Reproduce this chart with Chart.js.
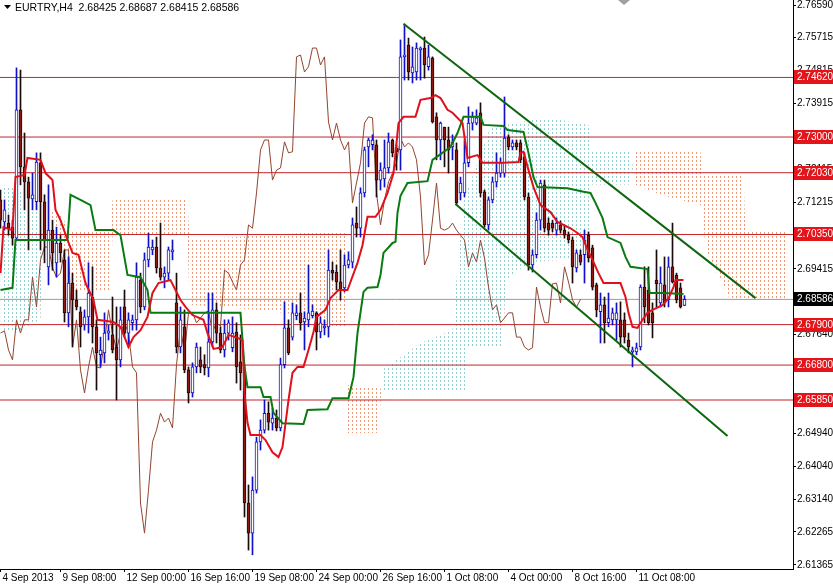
<!DOCTYPE html>
<html><head><meta charset="utf-8">
<script src="https://cdn.jsdelivr.net/npm/chart.js@4.4.1/dist/chart.umd.min.js"></script>
<style>html,body{margin:0;padding:0;background:#fff;}canvas{display:block;}</style>
</head><body>
<canvas id="c" width="833" height="584" style="width:833px;height:584px"></canvas>
<script>
// ---------- DATA ----------
const titleText = 'EURTRY,H4  2.68425 2.68687 2.68415 2.68586';
const xTickPos = [0, 15, 31, 47, 63, 79, 95, 111, 127, 143, 159];
const xTickLabels = ['4 Sep 2013','9 Sep 08:00','12 Sep 00:00','16 Sep 16:00','19 Sep 08:00','24 Sep 00:00','26 Sep 16:00','1 Oct 08:00','4 Oct 00:00','8 Oct 16:00','11 Oct 08:00'];
const yTicks = [2.76590,2.75715,2.74815,2.73915,2.73015,2.72115,2.71215,2.70315,2.69415,2.68515,2.67640,2.66740,2.65840,2.64940,2.64040,2.63140,2.62265,2.61365];

const openP = [
2.7129,2.7069,2.7066,2.7055,2.7025,2.7374,2.7219,2.7178,2.7132,2.7124,
2.7230,2.7124,2.6947,2.7047,2.6958,2.7012,2.6966,2.6822,2.6903,2.6857,
2.6825,2.6789,2.6811,2.6865,2.6784,2.6708,2.6713,2.6767,2.6762,2.6729,
2.6694,2.6838,2.6767,2.6795,2.6803,2.6911,2.6838,2.6966,2.6993,2.7001,
2.6944,2.6919,2.6930,2.6988,2.6849,2.6729,2.6784,2.6667,2.6604,2.6675,
2.6694,2.6681,2.6672,2.6743,2.6830,2.6767,2.6721,2.6767,2.6727,2.6770,
2.6689,2.6659,2.6305,2.6223,2.6340,2.6471,2.6503,2.6549,2.6522,2.6536,
2.6509,2.6681,2.6781,2.6756,2.6814,2.6822,2.6797,2.6803,2.6814,2.6822,
2.6770,2.6781,2.6784,2.6938,2.6933,2.6906,2.6890,2.6952,2.6960,2.7066,
2.7052,2.7148,2.7273,2.7279,2.7279,2.7183,2.7186,2.7216,2.7292,2.7270,
2.7265,2.7518,2.7550,2.7474,2.7477,2.7537,2.7542,2.7491,2.7515,2.7355,
2.7292,2.7327,2.7292,2.7273,2.7265,2.7148,2.7148,2.7230,2.7338,2.7338,
2.7366,2.7151,2.7061,2.7129,2.7178,2.7202,2.7202,2.7300,2.7273,2.7284,
2.7284,2.7246,2.7137,2.6952,2.6980,2.7074,2.7170,2.7066,2.7066,2.7047,
2.7061,2.7047,2.7033,2.7020,2.6944,2.6980,2.6980,2.7033,2.6999,2.6898,
2.6825,2.6844,2.6795,2.6803,2.6803,2.6803,2.6803,2.6748,2.6716,2.6716,
2.6729,2.6892,2.6884,2.6822,2.6911,2.6849,2.6898,2.6857,2.6947,2.6925,
2.6890,2.68425];
const highP = [
2.7156,2.7129,2.7088,2.7074,2.7488,2.7482,2.7311,2.7191,2.7202,2.7257,
2.7257,2.7143,2.7170,2.7074,2.7055,2.7033,2.6993,2.6974,2.6930,2.6884,
2.6838,2.6830,2.6958,2.6947,2.6803,2.6756,2.6822,2.6789,2.6865,2.6838,
2.6838,2.6884,2.6822,2.6816,2.6958,2.6930,2.6985,2.7039,2.7020,2.7028,
2.7066,2.6947,2.7001,2.7020,2.6930,2.6838,2.6830,2.6675,2.6686,2.6740,
2.6729,2.6708,2.6876,2.6876,2.6849,2.6784,2.6803,2.6803,2.6811,2.6795,
2.6762,2.6680,2.6354,2.6376,2.6484,2.6531,2.6585,2.6580,2.6563,2.6558,
2.6699,2.6852,2.6803,2.6849,2.6844,2.6876,2.6825,2.6952,2.6844,2.6825,
2.6811,2.6803,2.6993,2.6960,2.6952,2.6993,2.6980,2.6988,2.7080,2.7110,
2.7162,2.7273,2.7297,2.7306,2.7292,2.7230,2.7292,2.7311,2.7295,2.7279,
2.7564,2.7607,2.7569,2.7545,2.7556,2.7545,2.7572,2.7550,2.7518,2.7366,
2.7341,2.7327,2.7327,2.7306,2.7284,2.7191,2.7292,2.7382,2.7368,2.7374,
2.7393,2.7156,2.7137,2.7191,2.7257,2.7243,2.7409,2.7306,2.7292,2.7292,
2.7292,2.7257,2.7148,2.6993,2.7094,2.7183,2.7183,2.7080,2.7074,2.7080,
2.7072,2.7061,2.7042,2.7028,2.6993,2.6993,2.7047,2.7042,2.7006,2.6903,
2.6876,2.6865,2.6876,2.6835,2.6849,2.6852,2.6822,2.6767,2.6729,2.6740,
2.6898,2.6947,2.6947,2.6849,2.6993,2.6947,2.6974,2.6974,2.7066,2.6930,
2.6903,2.68687];
const lowP = [
2.7052,2.7047,2.7033,2.7006,2.7020,2.7170,2.7102,2.6993,2.7102,2.7102,
2.6993,2.6958,2.6898,2.6938,2.6919,2.6960,2.6797,2.6784,2.6729,2.6830,
2.6729,2.6775,2.6767,2.6740,2.6612,2.6675,2.6686,2.6748,2.6713,2.6585,
2.6675,2.6756,2.6729,2.6775,2.6775,2.6822,2.6830,2.6947,2.6980,2.6930,
2.6911,2.6890,2.6911,2.6966,2.6713,2.6713,2.6659,2.6577,2.6593,2.6659,
2.6659,2.6653,2.6648,2.6729,2.6740,2.6713,2.6702,2.6748,2.6716,2.6631,
2.6612,2.6267,2.6177,2.6164,2.6332,2.6449,2.6495,2.6503,2.6503,2.6501,
2.6501,2.6672,2.6708,2.6748,2.6803,2.6775,2.6721,2.6784,2.6808,2.6721,
2.6754,2.6762,2.6756,2.6911,2.6884,2.6857,2.6879,2.6944,2.6944,2.7028,
2.7028,2.7137,2.7219,2.7265,2.7137,2.7156,2.7164,2.7202,2.7246,2.7210,
2.7210,2.7455,2.7455,2.7447,2.7455,2.7455,2.7460,2.7482,2.7338,2.7238,
2.7238,2.7219,2.7202,2.7238,2.7115,2.7129,2.7137,2.7219,2.7319,2.7333,
2.7137,2.7055,2.7047,2.7121,2.7164,2.7191,2.7191,2.7265,2.7265,2.7265,
2.7230,2.7129,2.6938,2.6933,2.6971,2.7047,2.7042,2.7033,2.7042,2.7033,
2.7039,2.7025,2.7012,2.6903,2.6933,2.6952,2.6903,2.6960,2.6884,2.6811,
2.6740,2.6740,2.6784,2.6789,2.6748,2.6729,2.6740,2.6713,2.6675,2.6708,
2.6721,2.6795,2.6789,2.6754,2.6838,2.6838,2.6838,2.6838,2.6903,2.6849,
2.6835,2.68415];
const closeP = [
2.7074,2.7102,2.7052,2.7025,2.7374,2.7219,2.7178,2.7134,2.7143,2.7232,
2.7124,2.7020,2.7047,2.6985,2.7012,2.6985,2.6822,2.6903,2.6857,2.6838,
2.6784,2.6811,2.6876,2.6784,2.6713,2.6721,2.6767,2.6773,2.6721,2.6694,
2.6803,2.6767,2.6803,2.6803,2.6919,2.6838,2.6966,2.7001,2.7001,2.6944,
2.6919,2.6930,2.6993,2.6993,2.6729,2.6803,2.6667,2.6604,2.6675,2.6729,
2.6675,2.6672,2.6743,2.6830,2.6767,2.6721,2.6767,2.6795,2.6767,2.6675,
2.6659,2.6305,2.6223,2.6340,2.6471,2.6503,2.6549,2.6525,2.6536,2.6509,
2.6681,2.6781,2.6713,2.6822,2.6822,2.6795,2.6808,2.6822,2.6827,2.6770,
2.6795,2.6786,2.6938,2.6930,2.6906,2.6884,2.6952,2.6966,2.7061,2.7052,
2.7148,2.7265,2.7292,2.7292,2.7183,2.7210,2.7216,2.7287,2.7257,2.7260,
2.7518,2.7523,2.7477,2.7491,2.7542,2.7542,2.7496,2.7518,2.7341,2.7292,
2.7338,2.7292,2.7265,2.7287,2.7121,2.7175,2.7230,2.7338,2.7355,2.7352,
2.7148,2.7061,2.7129,2.7178,2.7202,2.7230,2.7297,2.7273,2.7284,2.7273,
2.7238,2.7137,2.6952,2.6980,2.7074,2.7175,2.7052,2.7047,2.7052,2.7066,
2.7047,2.7033,2.7020,2.6947,2.6985,2.6960,2.7020,2.6971,2.6892,2.6830,
2.6844,2.6795,2.6808,2.6822,2.6822,2.6756,2.6756,2.6729,2.6721,2.6727,
2.6892,2.6838,2.6795,2.6795,2.6901,2.6903,2.6849,2.6947,2.6906,2.6857,
2.6838,2.68586];

// Tenkan-sen (bar index, price)
const tenkanX = [0,0.75,3,3.75,6,6.75,10,11.25,13,13.75,15,16.75,18,19.5,21.25,23.25,24.25,28.25,30,32,33.25,35,36.75,38,39.5,42.5,45,46.25,48,50.75,51.75,53.25,55.5,57,59.25,60.5,61,61.75,62.5,65,66.25,68,69.5,70.5,72,73,74.25,75.75,77,78.25,79,81.25,82.5,84.5,86.75,89.25,90.5,91.75,93.75,95,96.75,98.25,99.5,100.75,103.75,105,107.5,108.75,110,111.75,113,115.5,116.75,119.25,120.5,125.75,129.5,130,130.75,132,133.25,135,137.5,139.25,142.5,144.25,145.5,146.75,148,149.5,150.75,155,156.25,157,158,159.25,160.5,161.75,163,165.5,167,168.25,168.75,170.75];
const tenkanY = [2.6930,2.7055,2.7047,2.7191,2.7197,2.7243,2.7238,2.7202,2.7183,2.7102,2.7074,2.7020,2.6985,2.6980,2.6903,2.6857,2.6803,2.6797,2.6784,2.6729,2.6756,2.6775,2.6811,2.6876,2.6903,2.6911,2.6857,2.6838,2.6816,2.6803,2.6767,2.6724,2.6729,2.6762,2.6754,2.6748,2.6604,2.6523,2.6490,2.6490,2.6476,2.6443,2.6430,2.6457,2.6585,2.6659,2.6675,2.6675,2.6721,2.6770,2.6811,2.6830,2.6862,2.6884,2.6884,2.6958,2.7006,2.7083,2.7083,2.7102,2.7148,2.7202,2.7338,2.7355,2.7355,2.7401,2.7406,2.7414,2.7406,2.7374,2.7366,2.7338,2.7243,2.7251,2.7230,2.7230,2.7232,2.7257,2.7260,2.7210,2.7164,2.7115,2.7096,2.7069,2.7052,2.7039,2.7028,2.6993,2.6966,2.6930,2.6903,2.6903,2.6865,2.6822,2.6784,2.6781,2.6803,2.6822,2.6830,2.6843,2.6862,2.6892,2.6911,2.6911];
// Kijun-sen
const kijunX = [0,3,3.75,16.75,17.5,20,22.5,23.75,28.25,30,31.75,35,36.75,37.5,60,61,61.75,65,65.75,67.5,68.25,70.5,75.75,76.75,81.75,83,87,88.25,89.25,90.75,91.75,94.25,95,95.75,98,98.75,99.25,100,101.75,106.75,108,112.5,114.25,115.75,120,120.75,125.75,126.75,130.75,132,133.25,134.25,141.75,145.75,147.5,148.75,150.5,151.75,155,156.25,157.5,161.75,162.25,165.75,170.75];
const kijunY = [2.6884,2.6890,2.7020,2.7020,2.7143,2.7129,2.7115,2.7047,2.7047,2.7033,2.6925,2.6919,2.6884,2.6822,2.6822,2.6675,2.6620,2.6620,2.6593,2.6593,2.6550,2.6522,2.6520,2.6558,2.6560,2.6590,2.6590,2.6647,2.6767,2.6879,2.6890,2.6892,2.6925,2.6985,2.7012,2.7015,2.7094,2.7140,2.7175,2.7180,2.7238,2.7273,2.7311,2.7355,2.7355,2.7333,2.7330,2.7319,2.7314,2.7257,2.7191,2.7164,2.7161,2.7151,2.7148,2.7121,2.7080,2.7028,2.7012,2.6974,2.6947,2.6941,2.6876,2.6876,2.6873];
// Kumo (Senkou span A / B), shifted forward
const cloudX = [0,5,10,10.5,15,17.5,27.5,28,46.75,47.25,65,75,82.5,86.25,86.75,94.5,95.5,105,113,114,115.75,116.25,116.75,122.5,125.75,126.25,132.5,140,147,147.5,157.5,158.75,165,175,175.5,176.25,182.5,185.75,186.25,196.75];
const spanA = [2.7170,2.7156,2.7129,2.7088,2.7020,2.6884,2.6884,2.7033,2.7033,2.6844,2.6830,2.6816,2.6784,2.6784,2.6495,2.6495,2.6667,2.6740,2.6775,2.6911,2.7129,2.7143,2.7156,2.7327,2.7333,2.7333,2.7346,2.7346,2.7333,2.7265,2.7260,2.7170,2.7143,2.7115,2.7110,2.6993,2.6857,2.6857,2.6857,2.6857];
const spanB = [2.6775,2.6775,2.6803,2.7115,2.7088,2.7047,2.7047,2.7129,2.7129,2.7020,2.7033,2.7039,2.7039,2.7039,2.6626,2.6618,2.6612,2.6612,2.6612,2.6612,2.6612,2.6612,2.6729,2.6729,2.6729,2.6911,2.6960,2.6966,2.6966,2.7170,2.7170,2.7260,2.7260,2.7260,2.7197,2.7197,2.7197,2.7197,2.7042,2.7042];
// Horizontal levels
const redLevels = [2.74620, 2.73000, 2.72030, 2.70350, 2.67900, 2.66800, 2.65850];
const lastPrice = 2.68586;
// Trend channel lines (bar index, price)
const trendUpperX = [100.75, 188.75], trendUpperY = [2.7608, 2.6862];
const trendLowerX = [113.75, 181.75], trendLowerY = [2.7118, 2.6487];

// ---------- CHART ----------
const X_MIN = -0.125, X_MAX = 198.125;
const Y_MIN = 2.61255, Y_MAX = 2.76726;
const canvas = document.getElementById('c');
const ctx = canvas.getContext('2d');
function dotPattern(color) {
  const c = document.createElement('canvas'); c.width = 4; c.height = 4;
  const g = c.getContext('2d'); g.fillStyle = color; g.fillRect(0, 0, 1, 2);
  return ctx.createPattern(c, 'repeat');
}
const blueDots = dotPattern('#8fcfcf');
const orangeDots = dotPattern('#eb9a74');

const idx = openP.map((_, i) => i);
const isBull = i => closeP[i] >= openP[i];
const BULL = '#1010c8', BEAR_FILL = '#8a1a10', BEAR_LINE = '#1a0a0a';

const datasets = [];
datasets.push({type:'line', data: cloudX.map((x,i)=>({x, y: spanA[i]})), borderWidth:0, borderColor:'rgba(0,0,0,0)', pointRadius:0,
  fill:{target:'+1', above: blueDots, below: orangeDots}, order: 20});
datasets.push({type:'line', data: cloudX.map((x,i)=>({x, y: spanB[i]})), borderWidth:0, borderColor:'rgba(0,0,0,0)', pointRadius:0, fill:false, order: 20});
redLevels.forEach(l => datasets.push({type:'line', data:[{x:X_MIN,y:l},{x:X_MAX,y:l}], borderColor:'#c4252a', borderWidth:1, pointRadius:0, order: 15}));
datasets.push({type:'line', data:[{x:X_MIN,y:lastPrice},{x:X_MAX,y:lastPrice}], borderColor:'#9a9a9a', borderWidth:1, pointRadius:0, order: 15});
// Chikou span: closes plotted 26 bars back
datasets.push({type:'line', data: closeP.slice(26).map((c,i)=>({x:i, y:c})), borderColor:'#93452f', borderWidth:1, pointRadius:0, order: 12});
datasets.push({type:'bar', data: idx.map(i=>({x:i, y:[lowP[i], highP[i]]})), barThickness:1, grouped:false,
  backgroundColor: idx.map(i => isBull(i) ? BULL : BEAR_LINE), borderWidth:0, order: 10});
datasets.push({type:'bar', data: idx.map(i=>({x:i, y:[openP[i], closeP[i]]})), barThickness:3, grouped:false, minBarLength:1,
  backgroundColor: idx.map(i => isBull(i) ? '#ffffff' : BEAR_FILL),
  borderColor: idx.map(i => isBull(i) ? BULL : BEAR_LINE), borderWidth:1, borderSkipped:false, order: 9});
datasets.push({type:'line', data: kijunX.map((x,i)=>({x, y:kijunY[i]})), borderColor:'#0a7a12', borderWidth:2, pointRadius:0, order: 5});
datasets.push({type:'line', data: tenkanX.map((x,i)=>({x, y:tenkanY[i]})), borderColor:'#e0101c', borderWidth:2, pointRadius:0, order: 4});
datasets.push({type:'line', data: trendUpperX.map((x,i)=>({x, y:trendUpperY[i]})), borderColor:'#0d650d', borderWidth:2, pointRadius:0, order: 1});
datasets.push({type:'line', data: trendLowerX.map((x,i)=>({x, y:trendLowerY[i]})), borderColor:'#0d650d', borderWidth:2, pointRadius:0, order: 1});

const FONT = 'Liberation Sans';
const decor = {
  id: 'decor',
  beforeDraw(chart) {
    const c = chart.ctx; c.save(); c.fillStyle = '#fff'; c.fillRect(0, 0, chart.width, chart.height); c.restore();
  },
  afterDraw(chart) {
    const c = chart.ctx, ys = chart.scales.y;
    c.save();
    c.font = '10px "' + FONT + '"';
    c.textBaseline = 'middle'; c.textAlign = 'left';
    const box = (v, bg) => {
      const py = Math.round(ys.getPixelForValue(v));
      c.fillStyle = bg; c.fillRect(794, py - 7, 39, 14);
      c.fillStyle = '#fff'; c.fillText(v.toFixed(5), 797, py + 0.5);
    };
    redLevels.forEach(l => box(l, '#e3151a'));
    box(lastPrice, '#000');
    // title
    c.fillStyle = '#000';
    c.beginPath(); c.moveTo(4, 5); c.lineTo(11, 5); c.lineTo(7.5, 9); c.closePath(); c.fill();
    c.font = '10.5px "' + FONT + '"';
    c.fillText(titleText, 15, 8);
    // chart-shift marker
    c.fillStyle = '#a0a0a0';
    c.beginPath(); c.moveTo(618, 0); c.lineTo(630, 0); c.lineTo(624, 5); c.closePath(); c.fill();
    c.restore();
  }
};

new Chart(ctx, {
  type: 'bar',
  data: { datasets },
  plugins: [decor],
  options: {
    responsive: false, devicePixelRatio: 1, animation: false,
    layout: { padding: 0 },
    plugins: { legend: {display:false}, tooltip: {enabled:false} },
    scales: {
      x: {
        type: 'linear', min: X_MIN, max: X_MAX, offset: false,
        grid: { display: true, drawOnChartArea: false, drawTicks: true, tickLength: 3, color: '#000', offset: false },
        border: { display: true, color: '#000', width: 1 },
        ticks: { autoSkip: false, maxRotation: 0, align: 'start', labelOffset: 2, padding: 0,
          color: '#000', font: { family: FONT, size: 10 },
          callback: (v, i) => xTickLabels[i] },
        afterBuildTicks: s => { s.ticks = xTickPos.map(v => ({ value: v })); },
        afterFit: s => { s.height = 15; s.paddingLeft = 0; s.paddingRight = 0; }
      },
      y: {
        type: 'linear', position: 'right', min: Y_MIN, max: Y_MAX,
        grid: { display: true, drawOnChartArea: false, drawTicks: true, tickLength: 3, color: '#000' },
        border: { display: true, color: '#000', width: 1 },
        ticks: { autoSkip: false, padding: 1, color: '#000', font: { family: FONT, size: 10 },
          callback: v => Number(v).toFixed(5) },
        afterBuildTicks: s => { s.ticks = yTicks.map(v => ({ value: v })); },
        afterFit: s => { s.width = 40; s.paddingTop = 0; s.paddingBottom = 0; }
      }
    }
  }
});
</script>
</body></html>
